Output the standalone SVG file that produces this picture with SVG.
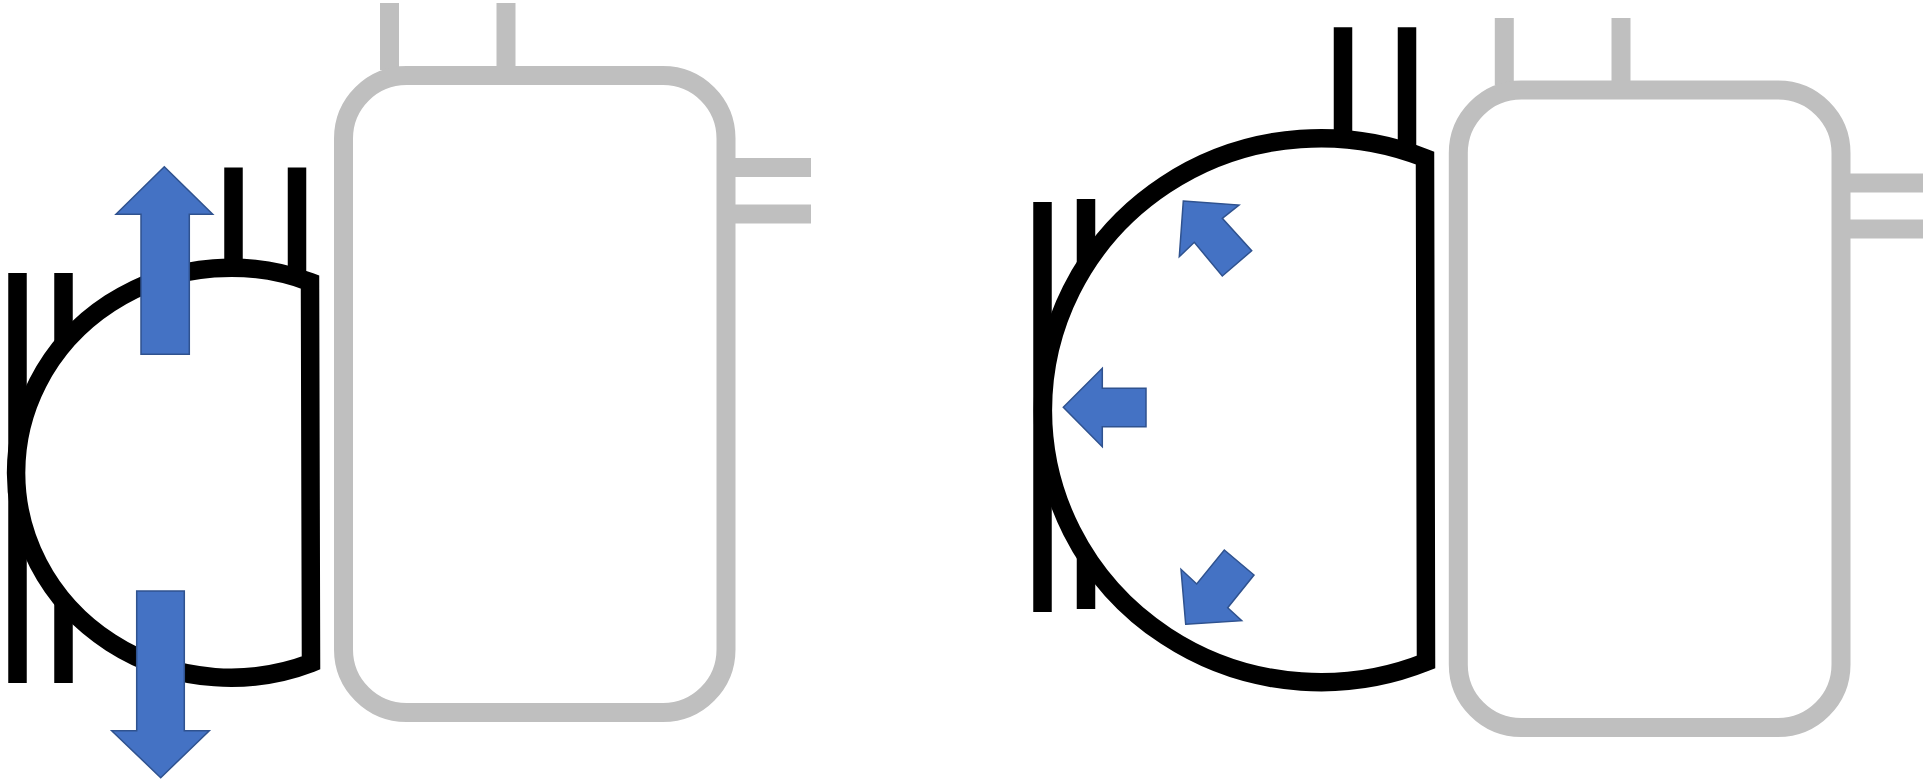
<svg xmlns="http://www.w3.org/2000/svg" width="1926" height="779" viewBox="0 0 1926 779">
<style>
.gray{fill:none;stroke:#bfbfbf;stroke-width:19}
.blk{fill:none;stroke:#000;stroke-width:18.5}
.shell{fill:#fff;stroke:#000;stroke-width:18.5;stroke-linejoin:miter;stroke-miterlimit:10}
.arr{fill:#4472c4;stroke:#2f528f;stroke-width:1.5;stroke-linejoin:miter}
</style>
<rect width="1926" height="779" fill="#fff"/>
<g id="tank-left">
<line class="gray" x1="389.5" y1="3" x2="389.5" y2="70"/>
<line class="gray" x1="506" y1="3" x2="506" y2="70"/>
<line class="gray" x1="730" y1="167.5" x2="811" y2="167.5"/>
<line class="gray" x1="730" y1="214" x2="811" y2="214"/>
<rect class="gray" x="343.5" y="75.5" width="382.5" height="637" rx="63" ry="63"/>
</g>
<g id="vessel-left">
<line class="blk" x1="17.5" y1="273" x2="17.5" y2="683"/>
<line class="blk" x1="63.5" y1="273" x2="63.5" y2="683"/>
<line class="blk" x1="233.5" y1="167.5" x2="233.5" y2="300"/>
<line class="blk" x1="297" y1="167.5" x2="297" y2="300"/>
<path class="shell" d="M310 282 A215 205 0 1 0 311 663 L310 282 Z"/>
</g>
<g id="tank-right">
<line class="gray" x1="1504.3" y1="18" x2="1504.3" y2="85"/>
<line class="gray" x1="1621" y1="18" x2="1621" y2="85"/>
<line class="gray" x1="1845" y1="183" x2="1923" y2="183"/>
<line class="gray" x1="1845" y1="229" x2="1923" y2="229"/>
<rect class="gray" x="1458.3" y="90" width="382.7" height="637.5" rx="63" ry="63"/>
</g>
<g id="vessel-right">
<line class="blk" x1="1042.5" y1="202" x2="1042.5" y2="612"/>
<line class="blk" x1="1086" y1="199" x2="1086" y2="609"/>
<line class="blk" x1="1343" y1="27.3" x2="1343" y2="160"/>
<line class="blk" x1="1407" y1="27.3" x2="1407" y2="160"/>
<path class="shell" d="M1425 158 A278 272 0 1 0 1426 662 L1425 158 Z"/>
</g>
<g id="connectors">
<polygon class="arr" points="164.3,166.7 212.7,214.3 189.3,214.3 189.3,354.3 141,354.3 141,214.3 116,214.3"/>
<polygon class="arr" points="136.7,591 184.3,591 184.3,730.7 209.3,730.7 160.7,777.7 111.7,730.7 136.7,730.7"/>
<polygon class="arr" points="1183.3,201 1239,205 1222.3,218.3 1251.7,250.7 1222.3,276 1194.3,242.3 1179.3,256.7"/>
<polygon class="arr" points="1063.3,407.3 1102.3,368.3 1102.3,388.3 1146,388.3 1146,426.7 1102.3,426.7 1102.3,446.7"/>
<polygon class="arr" points="1185.7,624.3 1241.7,620.7 1227.7,607.7 1254,575 1224.3,550 1196.7,584 1181,569.3"/>
</g>
</svg>
